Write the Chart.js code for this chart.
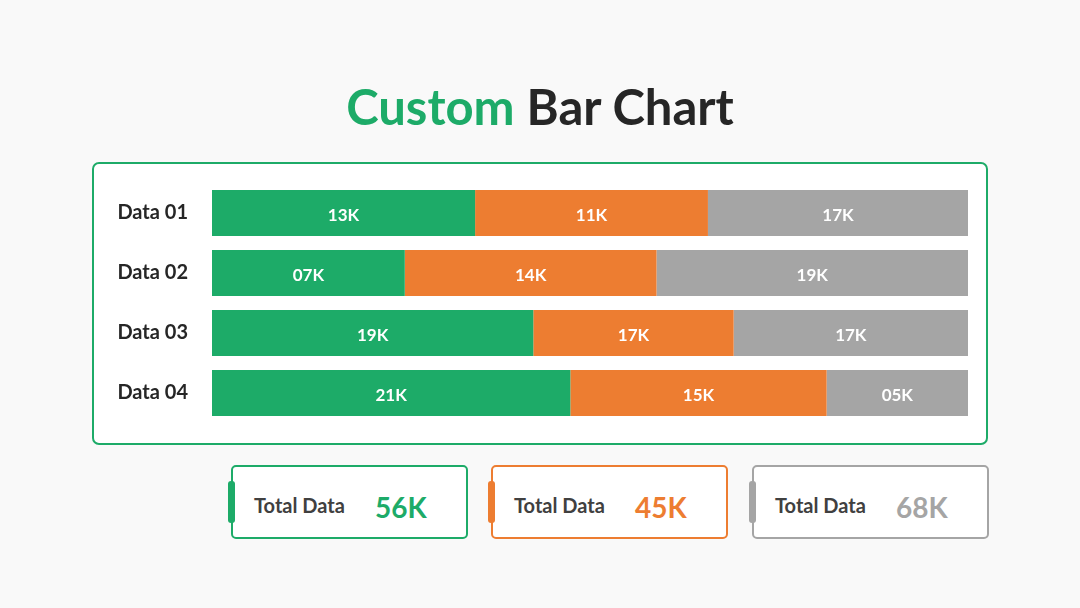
<!DOCTYPE html>
<html>
<head>
<meta charset="utf-8">
<script src="https://cdn.jsdelivr.net/npm/chart.js@4.4.0/dist/chart.umd.min.js"></script>
<style>
    body { margin: 0; width: 1080px; height: 608px; background: #f9f9f9; font-family: Lato, "Open Sans", sans-serif; overflow: hidden; position: relative; }
    .title { position: absolute; top: 74px; left: 0; width: 1080px; text-align: center; font-size: 49px; font-weight: 700; color: #262626; line-height: 64px; }
    .title .accent { color: #1dab68; }
    .box { position: absolute; left: 92px; top: 162px; width: 892px; height: 279px; border: 2.5px solid #1dab68; border-radius: 7px; background: #fff; }
    .chartWrap { position: absolute; left: 92px; top: 162px; width: 896px; height: 283px; }
    .card { position: absolute; top: 465px; width: 233px; height: 70px; border: 2px solid; border-radius: 5px; background: #fff; }
    .card .tab { position: absolute; left: -5px; top: 14px; width: 7px; height: 42px; border-radius: 3px; }
    .card .lbl { position: absolute; left: 21px; top: 26px; font-size: 20px; font-weight: 700; color: #404040; }
    .card .val { position: absolute; left: 142px; top: 23px; font-size: 28px; font-weight: 700; }
</style>
</head>
<body>
<div class="title"><span class="accent">Custom</span> Bar Chart</div>
<div class="box"></div>
<div class="chartWrap"><canvas id="barChart" width="896" height="283"></canvas></div>
<div id="cards"></div>

<script>
// categories
const categories = ["Data 01", "Data 02", "Data 03", "Data 04"];

// segment shares of each bar (percent of full width)
const greenShare = [34.8, 25.5, 42.5, 47.4];
const orangeShare = [30.8, 33.3, 26.5, 33.9];
const grayShare = [34.4, 41.2, 31.0, 18.7];

// labels printed inside the segments
const greenLabels = ["13K", "07K", "19K", "21K"];
const orangeLabels = ["11K", "14K", "17K", "15K"];
const grayLabels = ["17K", "19K", "17K", "05K"];

// totals shown in the cards below
const totalNames = ["Total Data", "Total Data", "Total Data"];
const totalValues = ["56K", "45K", "68K"];

const colors = ["#1dab68", "#ed7d31", "#a5a5a5"];
const cardLefts = [231, 491, 752];

// build the three total cards
const cardsEl = document.getElementById("cards");
totalValues.forEach((v, i) => {
    const card = document.createElement("div");
    card.className = "card";
    card.style.left = cardLefts[i] + "px";
    card.style.borderColor = colors[i];
    card.innerHTML =
        `<div class="tab" style="background:${colors[i]}"></div>` +
        `<div class="lbl">${totalNames[i]}</div>` +
        `<div class="val" style="color:${colors[i]}">${v}</div>`;
    cardsEl.appendChild(card);
});

// draws the text labels centred in each segment
const segmentLabels = {
    id: "segmentLabels",
    afterDatasetsDraw(chart) {
        const ctx = chart.ctx;
        ctx.save();
        ctx.fillStyle = "#ffffff";
        ctx.font = "700 17px Lato, 'Open Sans', sans-serif";
        ctx.textAlign = "center";
        ctx.textBaseline = "middle";
        chart.data.datasets.forEach((ds, di) => {
            const meta = chart.getDatasetMeta(di);
            meta.data.forEach((bar, i) => {
                const p = bar.getProps(["x", "y", "base"], true);
                ctx.fillText(ds.texts[i], (p.x + p.base) / 2, p.y + 3);
            });
        });
        ctx.restore();
    }
};

const ctx = document.getElementById("barChart").getContext("2d");
new Chart(ctx, {
    type: "bar",
    data: {
        labels: categories,
        datasets: [
            { label: "Green", data: greenShare, texts: greenLabels, backgroundColor: colors[0] },
            { label: "Orange", data: orangeShare, texts: orangeLabels, backgroundColor: colors[1] },
            { label: "Gray", data: grayShare, texts: grayLabels, backgroundColor: colors[2] }
        ]
    },
    options: {
        indexAxis: "y",
        responsive: false,
        animation: false,
        layout: { padding: { left: 0, right: 20, top: 21, bottom: 22 } },
        datasets: { bar: { categoryPercentage: 1, barPercentage: 0.767, borderWidth: 0 } },
        scales: {
            x: { stacked: true, min: 0, max: 100, display: false },
            y: {
                stacked: true,
                grid: { display: false },
                border: { display: false },
                afterFit: (s) => { s.width = 120; s.paddingTop = 0; s.paddingBottom = 0; },
                ticks: {
                    padding: 16,
                    color: "#262626",
                    font: { family: "Lato, 'Open Sans', sans-serif", size: 20, weight: "700" }
                }
            }
        },
        plugins: {
            legend: { display: false },
            tooltip: { enabled: false }
        }
    },
    plugins: [segmentLabels]
});
</script>
</body>
</html>
